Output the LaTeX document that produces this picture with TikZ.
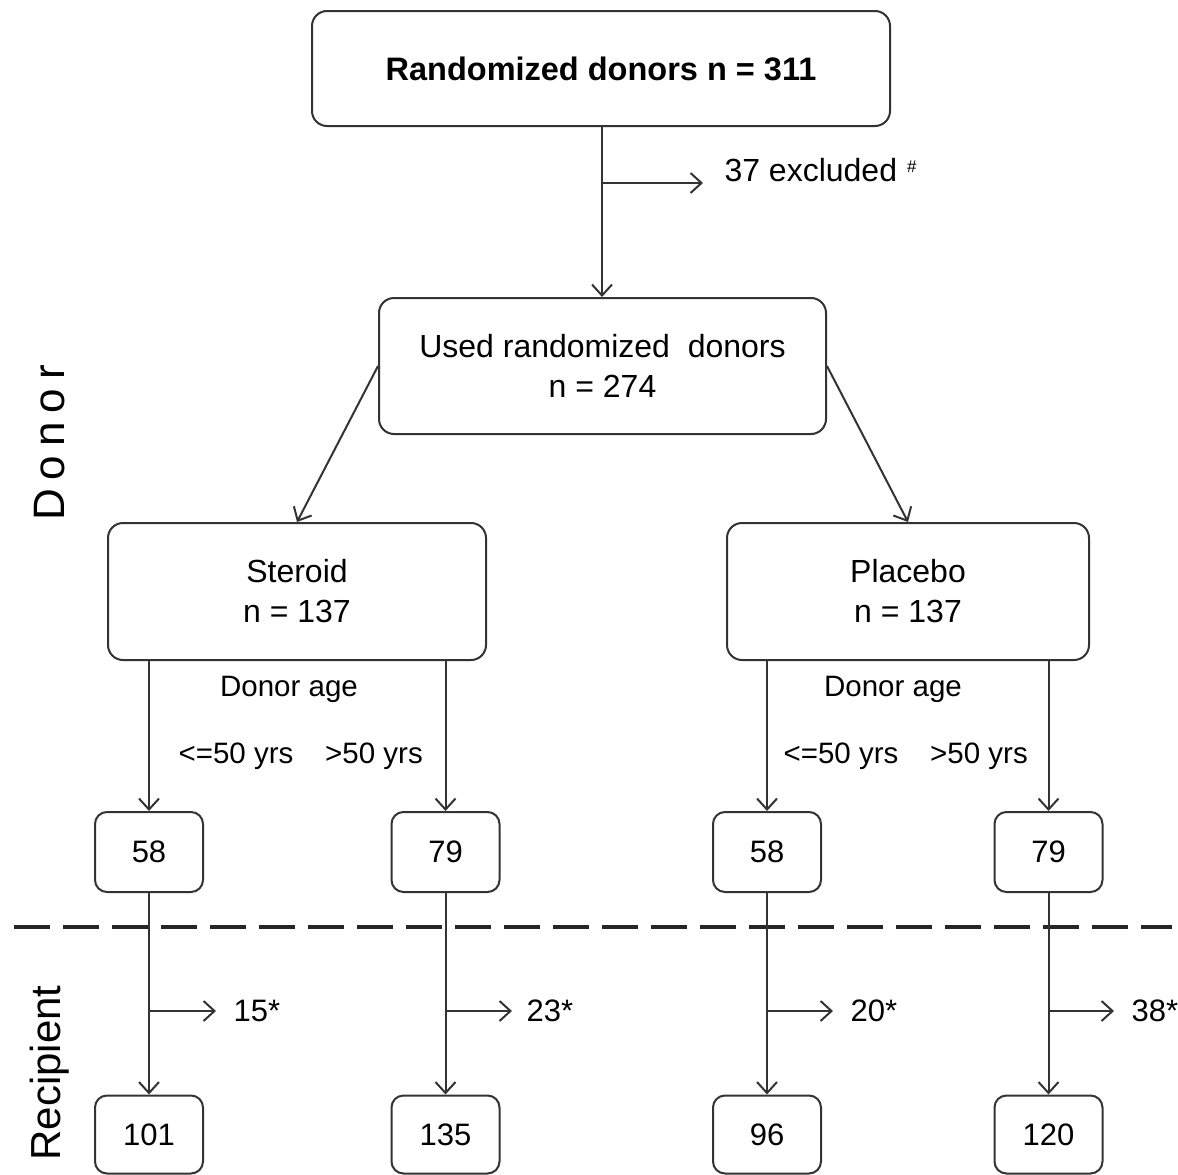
\documentclass[tikz,border=0pt]{standalone}
\usepackage{fontspec}
\setmainfont{Liberation Sans}
\usetikzlibrary{arrows.meta}
\tikzset{
  box/.style={draw=black!80, line width=2pt, rounded corners=15pt, fill=white, align=center, inner sep=0pt},
  smallbox/.style={draw=black!80, line width=2pt, rounded corners=12pt, minimum width=108pt, minimum height=80pt, inner sep=0pt},
  arr/.style={draw=black!80, line width=2pt, -{Straight Barb[length=11pt,width=20pt]}},
  big/.style={font=\fontsize{32}{40}\selectfont},
  mid/.style={font=\fontsize{29.5}{32}\selectfont},
  num/.style={font=\fontsize{31}{34}\selectfont},
}
\begin{document}
\begin{tikzpicture}[x=1pt,y=-1pt]
\useasboundingbox (0,0) rectangle (1178,1175);
% main boxes
\node[box, minimum width=578pt, minimum height=115pt, font=\fontsize{32.5}{38}\selectfont\bfseries] (top) at (601,68.5) {Randomized donors n = 311};
\node[box, big, minimum width=447pt, minimum height=136pt] (used) at (602.5,366) {Used randomized\ \ donors\\n = 274};
\node[box, big, minimum width=378pt, minimum height=137pt] (ster) at (297,591.5) {Steroid\\n = 137};
\node[box, big, minimum width=362pt, minimum height=137pt] (plac) at (908,591.5) {Placebo\\n = 137};
% donor-age boxes
\node[smallbox, num] (s1) at (149,852) {58};
\node[smallbox, num] (s2) at (445.5,852) {79};
\node[smallbox, num] (p1) at (767,852) {58};
\node[smallbox, num] (p2) at (1048.5,852) {79};
% recipient boxes
\node[smallbox, num, minimum height=78pt] (rs1) at (149,1134.5) {101};
\node[smallbox, num, minimum height=78pt] (rs2) at (445.5,1134.5) {135};
\node[smallbox, num, minimum height=78pt] (rp1) at (767,1134.5) {96};
\node[smallbox, num, minimum height=78pt] (rp2) at (1048.5,1134.5) {120};
% top connectors
\coordinate (b0) at (602,183);
\coordinate (b0e) at (703,183);
\draw[arr] (top.south -| b0) -- (used.north -| b0);
\draw[arr] (b0) -- (b0e);
\node[big, anchor=west] (excl) at (721,170) {37 excluded\hspace{10pt}\raisebox{9pt}{\fontsize{17}{17}\selectfont\#}};
\draw[arr] (used.west) -- (ster.north);
\draw[arr] (used.east) -- (plac.north);
% donor age branches
\draw[arr] (s1.north |- ster.south) -- (s1.north);
\draw[arr] (s2.north |- ster.south) -- (s2.north);
\draw[arr] (p1.north |- plac.south) -- (p1.north);
\draw[arr] (p2.north |- plac.south) -- (p2.north);
\node[mid] (da1) at (289,689) {Donor age};
\node[mid] (le1) at (236,756) {<=50 yrs};
\node[mid] (gt1) at (374,756) {>50 yrs};
\node[mid] (da2) at (893,689) {Donor age};
\node[mid] (le2) at (841,756) {<=50 yrs};
\node[mid] (gt2) at (979,756) {>50 yrs};
% dashed separator
\coordinate (dl) at (14,927);
\coordinate (dr) at (1172,927);
\draw[black!85, line width=4pt, dash pattern=on 36pt off 13pt] (dl) -- (dr);
% recipient connectors
\draw[arr] (s1.south) -- (rs1.north);
\draw[arr] (s2.south) -- (rs2.north);
\draw[arr] (p1.south) -- (rp1.north);
\draw[arr] (p2.south) -- (rp2.north);
\coordinate (c1) at (149,1011);  \coordinate (c1e) at (216,1011);
\coordinate (c2) at (446,1011);  \coordinate (c2e) at (512,1011);
\coordinate (c3) at (768,1011);  \coordinate (c3e) at (833,1011);
\coordinate (c4) at (1049,1011); \coordinate (c4e) at (1114,1011);
\draw[arr] (c1) -- (c1e);
\draw[arr] (c2) -- (c2e);
\draw[arr] (c3) -- (c3e);
\draw[arr] (c4) -- (c4e);
\node[num, anchor=west] (x1) at (230,1011) {15*};
\node[num, anchor=west] (x2) at (523,1011) {23*};
\node[num, anchor=west] (x3) at (847,1011) {20*};
\node[num, anchor=west] (x4) at (1128,1011) {38*};
% side labels
\node[rotate=90, font=\fontsize{44}{44}\selectfont] (donor) at (50,443) {D\hspace{9pt}o\hspace{9pt}n\hspace{9pt}o\hspace{9pt}r};
\node[rotate=90, font=\fontsize{42}{42}\selectfont] (recip) at (50,1073) {Recipient};
\end{tikzpicture}
\end{document}
